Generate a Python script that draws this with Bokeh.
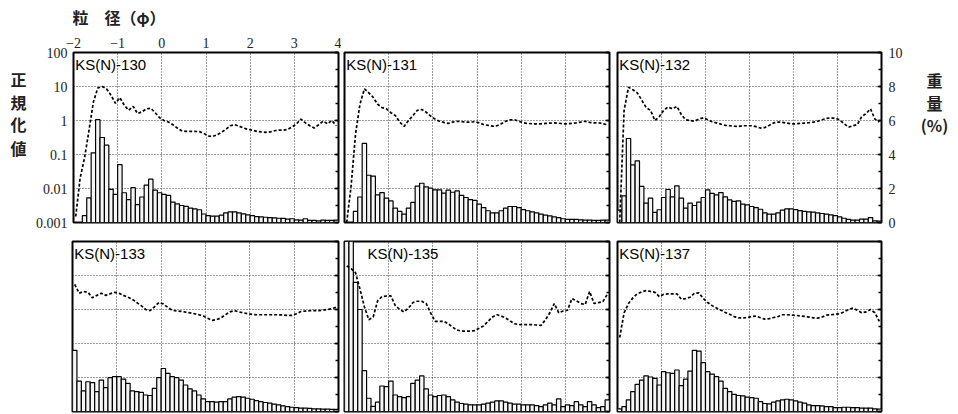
from bokeh.plotting import figure
from bokeh.layouts import column, row
from bokeh.models import (Range1d, LogScale, LinearAxis, FixedTicker, Grid, Label,
                          SingleIntervalTicker)
from bokeh.core.properties import value
from bokeh.embed import file_html
from bokeh.resources import INLINE

# grain size bin centres (phi), 0.1 phi bins from -2 to 4
PHI = [-1.95, -1.85, -1.75, -1.65, -1.55, -1.45, -1.35, -1.25, -1.15, -1.05,
       -0.95, -0.85, -0.75, -0.65, -0.55, -0.45, -0.35, -0.25, -0.15, -0.05,
       0.05, 0.15, 0.25, 0.35, 0.45, 0.55, 0.65, 0.75, 0.85, 0.95,
       1.05, 1.15, 1.25, 1.35, 1.45, 1.55, 1.65, 1.75, 1.85, 1.95,
       2.05, 2.15, 2.25, 2.35, 2.45, 2.55, 2.65, 2.75, 2.85, 2.95,
       3.05, 3.15, 3.25, 3.35, 3.45, 3.55, 3.65, 3.75, 3.85, 3.95]

PHI_TICKS = [-2, -1, 0, 1, 2, 3, 4]
PHI_GRID = [-1, 0, 1, 2, 3]
NORM_TICKS = [0.001, 0.01, 0.1, 1, 10, 100]
NORM_LABELS = ["0.001", "0.01", "0.1", "1", "10", "100"]
WEIGHT_TICKS = [0, 2, 4, 6, 8, 10]
WEIGHT_GRID = [2, 4, 6, 8]

SAMPLES = ["KS(N)-130", "KS(N)-131", "KS(N)-132", "KS(N)-133", "KS(N)-135", "KS(N)-137"]
X_TITLE = "粒　径（\u03c6）"
LEFT_TITLE = ["正", "規", "化", "値"]
RIGHT_TITLE = ["重", "量", "(%)"]

# weight percent per bin (bars, right axis)
W130 = [0, 0, 0.4, 1.45, 4.1, 6.05, 5.0, 4.55, 1.95, 1.65,
        3.4, 1.75, 1.35, 2.05, 1.05, 1.5, 2.2, 2.55, 1.9, 1.75,
        1.65, 1.6, 1.2, 1.1, 1.0, 0.95, 0.85, 0.8, 0.75, 0.5,
        0.4, 0.37, 0.37, 0.43, 0.57, 0.63, 0.63, 0.57, 0.51, 0.45,
        0.4, 0.35, 0.33, 0.31, 0.29, 0.27, 0.25, 0.24, 0.2, 0.22,
        0.16, 0.14, 0.22, 0.12, 0.12, 0.1, 0.14, 0.12, 0.12, 0.14]
W131 = [0, 0, 0.65, 1.5, 4.65, 2.78, 2.73, 1.63, 1.76, 1.43,
        1.27, 0.84, 0.65, 0.49, 0.84, 1.18, 2.14, 2.31, 2.1, 2.02,
        1.92, 1.92, 1.73, 1.9, 1.78, 1.86, 1.6, 1.47, 1.35, 1.3,
        1.08, 0.88, 0.69, 0.57, 0.57, 0.69, 0.84, 0.94, 0.94, 0.88,
        0.76, 0.69, 0.63, 0.57, 0.49, 0.43, 0.39, 0.33, 0.29, 0.22,
        0.18, 0.18, 0.18, 0.16, 0.14, 0.14, 0.12, 0.12, 0.14, 0.14]
W132 = [0.73, 1.57, 4.94, 3.39, 3.63, 2.12, 1.14, 1.43, 0.59, 0.75,
        1.47, 1.94, 1.51, 2.16, 1.43, 0.84, 1.14, 1.0, 1.2, 1.47,
        1.92, 1.71, 1.63, 1.76, 1.51, 1.33, 1.24, 1.27, 1.08, 1.04,
        0.94, 0.88, 0.78, 0.57, 0.49, 0.49, 0.57, 0.73, 0.8, 0.8,
        0.76, 0.7, 0.65, 0.63, 0.61, 0.57, 0.53, 0.49, 0.45, 0.41,
        0.33, 0.25, 0.18, 0.14, 0.14, 0.2, 0.2, 0.29, 0.1, 0.08]
W133 = [3.6, 1.79, 1.21, 1.75, 1.7, 1.17, 1.85, 1.4, 1.99, 2.05,
        2.05, 1.91, 1.66, 1.21, 1.17, 1.13, 0.97, 0.94, 1.36, 1.99,
        2.53, 2.24, 2.05, 1.99, 1.85, 1.56, 1.33, 1.21, 0.97, 0.74,
        0.58, 0.58, 0.55, 0.58, 0.58, 0.74, 0.84, 0.88, 0.84, 0.78,
        0.72, 0.64, 0.58, 0.53, 0.49, 0.43, 0.39, 0.33, 0.29, 0.25,
        0.23, 0.2, 0.2, 0.18, 0.16, 0.16, 0.14, 0.14, 0.12, 0.12]
W135 = [12, 11, 7.6, 6.0, 2.4, 0.78, 0.3, 0.55, 1.5, 1.46,
        1.79, 0.97, 0.88, 0.82, 0.88, 1.66, 1.85, 2.09, 1.33, 0.97,
        0.88, 0.94, 0.97, 0.88, 0.68, 0.55, 0.47, 0.43, 0.39, 0.39,
        0.39, 0.43, 0.49, 0.55, 0.62, 0.62, 0.55, 0.49, 0.43, 0.43,
        0.39, 0.39, 0.39, 0.35, 0.29, 0.39, 0.49, 0.39, 0.74, 0.29,
        0.39, 0.35, 0.58, 0.39, 0.29, 0.58, 0.39, 0.23, 0.29, 0.68]
W137 = [0.16, 0.29, 0.68, 1.17, 1.6, 1.85, 2.1, 2.03, 1.95, 1.56,
        2.34, 2.28, 2.24, 2.44, 1.52, 1.91, 2.38, 3.6, 3.55, 2.88,
        2.34, 2.2, 2.05, 1.79, 1.36, 1.17, 1.01, 0.94, 0.92, 0.84,
        0.82, 0.78, 0.58, 0.47, 0.45, 0.55, 0.62, 0.68, 0.72, 0.68,
        0.62, 0.55, 0.49, 0.39, 0.35, 0.35, 0.33, 0.29, 0.29, 0.23,
        0.23, 0.25, 0.25, 0.23, 0.23, 0.2, 0.2, 0.2, 0.16, 0.14]

# normalised values per bin (dotted line, left log axis)
N130 = [0.0015, 0.02, 0.08, 0.5, 3.5, 9, 10, 8.5, 5.5, 3.2,
        4.7, 2.8, 2.0, 2.6, 1.6, 1.8, 2.2, 2.3, 1.7, 1.2,
        1.0, 0.9, 0.75, 0.6, 0.5, 0.48, 0.48, 0.48, 0.47, 0.42,
        0.35, 0.34, 0.38, 0.45, 0.55, 0.7, 0.75, 0.68, 0.6, 0.55,
        0.52, 0.48, 0.46, 0.45, 0.46, 0.5, 0.52, 0.52, 0.55, 0.65,
        0.8, 1.1, 0.85, 0.7, 0.6, 0.75, 0.95, 0.8, 1.0, 0.7]
N131 = [0.001, 0.012, 0.4, 3, 8.5, 6.5, 4.8, 3, 2.4, 2.2,
        1.7, 1.4, 0.9, 0.67, 1.0, 1.4, 2.0, 2.1, 1.75, 1.35,
        1.1, 0.95, 0.88, 0.82, 0.9, 0.95, 0.92, 0.9, 0.9, 0.92,
        0.85, 0.76, 0.72, 0.68, 0.7, 0.8, 0.95, 1.05, 1.05, 0.95,
        0.86, 0.82, 0.8, 0.8, 0.8, 0.82, 0.84, 0.85, 0.83, 0.8,
        0.8, 0.82, 0.85, 0.9, 0.95, 0.88, 0.85, 0.86, 0.8, 0.75]
N132 = [0.001, 2.0, 9.5, 8, 6.5, 4, 2.4, 2.0, 1.0, 1.3,
        2.0, 2.5, 2.2, 2.6, 1.5, 1.05, 1.0, 0.95, 1.1, 1.2,
        1.05, 0.92, 0.85, 0.78, 0.72, 0.7, 0.68, 0.67, 0.7, 0.7,
        0.7, 0.66, 0.6, 0.62, 0.72, 0.85, 0.9, 0.88, 0.84, 0.8,
        0.8, 0.82, 0.84, 0.86, 0.9, 0.95, 1.05, 1.15, 1.2, 1.15,
        1.05, 0.8, 0.64, 0.7, 0.76, 1.3, 1.6, 2.2, 1.1, 0.9]
N133 = [5.5, 3.0, 3.4, 3.2, 2.2, 2.6, 3.0, 2.6, 2.9, 3.2,
        3.0, 2.6, 2.3, 2.0, 1.6, 1.3, 1.0, 0.93, 1.2, 1.6,
        1.45, 1.15, 0.95, 0.9, 0.88, 0.84, 0.8, 0.75, 0.7, 0.64,
        0.55, 0.48, 0.5, 0.57, 0.7, 0.85, 0.93, 0.85, 0.8, 0.75,
        0.72, 0.7, 0.7, 0.7, 0.7, 0.7, 0.7, 0.69, 0.67, 0.67,
        0.75, 0.87, 0.9, 0.92, 0.93, 0.93, 0.95, 1.0, 1.05, 1.17]
N135 = [19, 16, 12, 4, 1.2, 0.5, 0.6, 1.8, 2.4, 2.5,
        2.5, 1.3, 1.0, 0.85, 1.1, 1.6, 1.75, 1.75, 1.5, 0.8,
        0.45, 0.45, 0.45, 0.38, 0.3, 0.25, 0.23, 0.23, 0.23, 0.24,
        0.28, 0.33, 0.45, 0.6, 0.7, 0.64, 0.56, 0.46, 0.38, 0.36,
        0.36, 0.36, 0.36, 0.35, 0.34, 0.5, 0.8, 1.5, 0.8, 0.9,
        0.95, 2.1, 1.8, 1.5, 1.4, 3.4, 1.5, 1.6, 1.7, 2.8]
N137 = [0.15, 0.8, 1.5, 2.2, 2.9, 3.3, 3.6, 3.4, 3.2, 2.4,
        2.8, 2.9, 2.9, 2.9, 2.0, 2.1, 2.3, 3.0, 3.1, 2.1,
        1.6, 1.3, 1.1, 0.95, 0.82, 0.72, 0.62, 0.57, 0.56, 0.58,
        0.62, 0.64, 0.57, 0.52, 0.54, 0.58, 0.62, 0.7, 0.7, 0.69,
        0.67, 0.65, 0.63, 0.6, 0.57, 0.56, 0.6, 0.68, 0.7, 0.73,
        0.75, 0.85, 1.0, 1.1, 0.95, 0.8, 0.85, 1.0, 0.8, 0.45]

WEIGHTS = [W130, W131, W132, W133, W135, W137]
NORMS = [N130, N131, N132, N133, N135, N137]
LABEL_X = [-1.96, -1.96, -1.96, -1.96, -1.48, -1.96]

SERIF = "Liberation Serif"
CJK = "Noto Sans CJK JP"
INK = "#222222"

# ---- layout (px) ----
STRIP_H = 28
FRAME_H = 170
TOP_BT, TOP_BB = 24, 8
BOT_BT, BOT_BB = 11, 2
TOP_H = TOP_BT + FRAME_H + TOP_BB
BOT_H = BOT_BT + FRAME_H + BOT_BB
LF_W, RF_W = 32, 50
FRAMES = [266, 265, 264]
TOP_BL = [40, 3, 4]
TOP_BR = [3, 4, 24]
BOT_BL = [40 + LF_W, 3, 4]
BOT_BR = [3, 4, 24 + RF_W]


def style_blank(p):
    p.outline_line_color = None
    p.background_fill_color = "white"
    p.border_fill_color = "white"


def make_panel(k):
    col = k % 3
    top = k < 3
    bl = TOP_BL[col] if top else BOT_BL[col]
    br = TOP_BR[col] if top else BOT_BR[col]
    bt = TOP_BT if top else BOT_BT
    bb = TOP_BB if top else BOT_BB
    p = figure(width=bl + FRAMES[col] + br, height=bt + FRAME_H + bb,
               x_range=Range1d(-2, 4), y_range=Range1d(0, 10),
               x_axis_type=None, y_axis_type=None, title=None,
               output_backend="svg", toolbar_location=None,
               min_border_left=bl, min_border_right=br,
               min_border_top=bt, min_border_bottom=bb)
    p.extra_y_ranges = {"log": Range1d(0.001, 100)}
    p.extra_y_scales = {"log": LogScale()}
    p.outline_line_color = "black"
    p.outline_line_width = 2
    p.outline_line_alpha = 1.0
    p.background_fill_color = "white"
    p.border_fill_color = "white"

    p.add_layout(Grid(dimension=0, ticker=FixedTicker(ticks=PHI_GRID),
                      grid_line_color="#3a3a3a", grid_line_dash="1 2", grid_line_width=1))
    p.add_layout(Grid(dimension=1, ticker=FixedTicker(ticks=WEIGHT_GRID),
                      grid_line_color="#3a3a3a", grid_line_dash="1 2", grid_line_width=1))

    p.vbar(x=PHI, width=0.1, top=WEIGHTS[k], bottom=0,
           fill_color="#f6f6f6", line_color="black", line_width=1.2)
    p.line(PHI, NORMS[k], y_range_name="log", line_color="black",
           line_width=1.7, line_dash="3 2")

    p.add_layout(Label(x=LABEL_X[k], y=9.82, text=SAMPLES[k], text_font="Liberation Sans",
                       text_font_size="15px", text_baseline="top", text_align="left",
                       text_color="black"))

    # right weight axis with inward ticks
    rax = LinearAxis(ticker=SingleIntervalTicker(interval=2, num_minor_ticks=2),
                     major_tick_in=4, major_tick_out=0, minor_tick_in=3, minor_tick_out=0,
                     major_tick_line_width=1.5, minor_tick_line_width=1.5,
                     axis_line_color=None, major_label_text_font=SERIF,
                     major_label_text_font_size="14px", major_label_text_color=INK)
    if k == 2:
        rax.major_label_standoff = 7
    else:
        rax.major_label_standoff = 0
        rax.major_label_overrides = {t: "" for t in WEIGHT_TICKS}
    p.add_layout(rax, "right")

    if k == 0:
        tax = LinearAxis(ticker=FixedTicker(ticks=PHI_TICKS),
                         major_label_overrides={-2: "\u22122", -1: "\u22121"},
                         major_tick_in=0, major_tick_out=0, minor_tick_in=0, minor_tick_out=0,
                         axis_line_color=None, major_label_standoff=5,
                         major_label_text_font=SERIF, major_label_text_font_size="14px",
                         major_label_text_color=INK)
        p.add_layout(tax, "above")
        lax = LinearAxis(y_range_name="log", ticker=FixedTicker(ticks=NORM_TICKS),
                         major_label_overrides=dict(zip(NORM_TICKS, NORM_LABELS)),
                         major_tick_in=0, major_tick_out=0, minor_tick_in=0, minor_tick_out=0,
                         axis_line_color=None, major_label_standoff=6,
                         major_label_text_font=SERIF, major_label_text_font_size="14px",
                         major_label_text_color=INK)
        p.add_layout(lax, "left")
    return p


def text_panel(w, h, xs, ys, texts, align):
    p = figure(width=w, height=h, x_range=Range1d(0, w), y_range=Range1d(0, h),
               x_axis_type=None, y_axis_type=None, title=None,
               output_backend="svg", toolbar_location=None, min_border=0)
    style_blank(p)
    p.text(x=xs, y=ys, text=texts, text_font=value(CJK), text_font_size=value("16px"),
           text_font_style=value("bold"), text_color=INK, text_align=align,
           text_baseline="middle")
    return p


total_w = LF_W + sum(TOP_BL) + sum(FRAMES) + sum(TOP_BR) + RF_W
strip = text_panel(total_w, STRIP_H, [LF_W + TOP_BL[0]], [STRIP_H - 16], [X_TITLE], "left")
left_lab = text_panel(LF_W, TOP_H, [18] * 4,
                      [TOP_H - 32, TOP_H - 58.5, TOP_H - 85.5, TOP_H - 113.5],
                      LEFT_TITLE, "center")
right_lab = text_panel(RF_W, TOP_H, [29] * 3, [TOP_H - 33, TOP_H - 60, TOP_H - 86],
                       RIGHT_TITLE, "center")

panels = [make_panel(k) for k in range(6)]
layout = column(strip,
                row(left_lab, panels[0], panels[1], panels[2], right_lab),
                row(panels[3], panels[4], panels[5]))

open("out.html", "w").write(file_html(layout, INLINE))
